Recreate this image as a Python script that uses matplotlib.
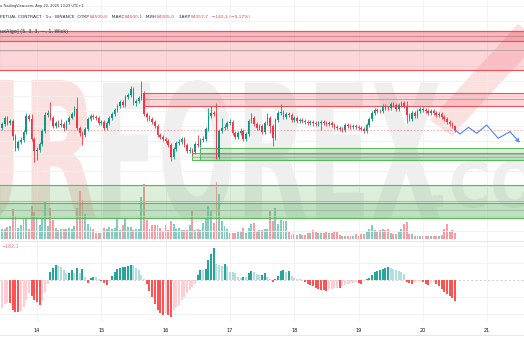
import matplotlib
matplotlib.use('Agg')
import matplotlib.pyplot as plt
import numpy as np
from matplotlib.textpath import TextPath
from matplotlib.patches import PathPatch, Rectangle, Polygon
from matplotlib.font_manager import FontProperties
from matplotlib.transforms import Affine2D
from matplotlib.lines import Line2D
from matplotlib.ticker import MultipleLocator, FixedLocator

W, H = 524, 350

# BTCUSDT perpetual, 1h bars. Bar 13 is Apr 14 00:00 (UTC+3)
first_open = 84424
closes = [84558, 84758, 84591, 84658, 84158, 83758, 83958, 84024, 84291, 84824,
          84724, 84058, 83658, 83691, 83891, 84324, 84858, 84924, 84758, 84491,
          84591, 84524, 84558, 84424, 84624, 84758, 84891, 85058, 84424, 84258,
          84191, 84391, 84724, 84824, 84791, 84758, 84591, 84624, 84424, 84591,
          84758, 84891, 85024, 85158, 85291, 85191, 85458, 85524, 85724, 85258,
          85324, 85424, 85591, 84891, 84791, 84724, 84624, 84491, 84191, 84124,
          84058, 83991, 83858, 83458, 83724, 83924, 83958, 84058, 83858, 83658,
          83691, 83624, 83891, 83858, 84024, 84058, 84391, 84824, 84924, 84891,
          83458, 84324, 84424, 84458, 84591, 84624, 84258, 84124, 84258, 84324,
          84058, 84224, 84658, 84758, 84558, 84424, 84491, 84291, 84591, 84758,
          84491, 84091, 84691, 84924, 84958, 84791, 84891, 84858, 84691, 84758,
          84658, 84691, 84658, 84624, 84591, 84624, 84591, 84558, 84591, 84624,
          84591, 84558, 84591, 84524, 84458, 84424, 84391, 84358, 84524, 84491,
          84458, 84491, 84458, 84424, 84391, 84324, 84524, 84724, 84924, 85024,
          84991, 84985, 85158, 85091, 85085, 85224, 85191, 85058, 85191, 85258,
          85158, 84858, 84724, 84924, 84824, 84991, 85058, 85024, 84991, 84924,
          84991, 84924, 84858, 84891, 84791, 84724, 84624, 84558, 84500.0, 84357.7]
highs = [84624, 84824, 84824, 84724, 84724, 84224, 84024, 84124, 84358, 84924,
         84891, 84891, 84124, 83791, 83958, 84391, 84958, 85024, 85291, 84824,
         84658, 84691, 84724, 84624, 84691, 84824, 84958, 85158, 85458, 84491,
         84324, 84458, 84791, 84891, 84891, 84858, 84824, 84691, 84691, 84658,
         84824, 84958, 85091, 85224, 85358, 85358, 85524, 85591, 85824, 85791,
         85391, 85491, 85991, 85658, 84958, 84858, 84791, 84691, 84558, 84258,
         84191, 84124, 84058, 83924, 83791, 83991, 84058, 84124, 84124, 83924,
         83791, 83758, 83958, 84191, 84091, 84158, 84458, 85091, 85158, 84991,
         85258, 84391, 84758, 84558, 84658, 84724, 84691, 84324, 84324, 84424,
         84391, 84291, 84724, 84924, 84824, 84624, 84558, 84558, 84658, 84924,
         84824, 84558, 84758, 84991, 85224, 85024, 84958, 84958, 84924, 84824,
         84824, 84758, 84758, 84724, 84691, 84691, 84691, 84658, 84658, 84691,
         84691, 84658, 84658, 84658, 84591, 84524, 84491, 84458, 84591, 84591,
         84558, 84558, 84558, 84524, 84491, 84458, 84591, 84791, 84991, 85091,
         85091, 85058, 85224, 85224, 85158, 85291, 85291, 85258, 85258, 85324,
         85324, 85324, 84924, 84991, 84991, 85058, 85124, 85124, 85091, 85058,
         85058, 85058, 84991, 84958, 84958, 84858, 84791, 84691, 84624, 84500.1]
lows = [84358, 84491, 84524, 84524, 84024, 83658, 83691, 83891, 83958, 84224,
        84658, 83991, 83291, 83358, 83624, 83824, 84258, 84791, 84691, 84424,
        84424, 84458, 84458, 84324, 84358, 84558, 84724, 84824, 84358, 84158,
        83858, 84124, 84324, 84658, 84724, 84691, 84524, 84524, 84358, 84358,
        84524, 84691, 84824, 84958, 85091, 85124, 85124, 85391, 85458, 85191,
        85158, 85258, 85358, 84824, 84658, 84658, 84558, 84424, 84124, 84058,
        83991, 83924, 83791, 83324, 83391, 83658, 83858, 83891, 83791, 83591,
        83591, 83524, 83558, 83791, 83791, 83958, 83991, 84324, 84758, 84824,
        83391, 83391, 84258, 84358, 84391, 84524, 84191, 84058, 84058, 84191,
        83991, 83991, 84158, 84591, 84491, 84358, 84358, 84224, 84224, 84524,
        84258, 83824, 84024, 84624, 84858, 84724, 84724, 84791, 84624, 84624,
        84591, 84591, 84591, 84558, 84524, 84524, 84491, 84491, 84491, 84358,
        84524, 84491, 84491, 84458, 84391, 84358, 84324, 84291, 84291, 84424,
        84391, 84391, 84391, 84358, 84324, 84258, 84258, 84458, 84658, 84858,
        84924, 84924, 84924, 85024, 85024, 85024, 85124, 84991, 84991, 85124,
        85091, 84591, 84658, 84658, 84758, 84758, 84924, 84958, 84924, 84858,
        84858, 84858, 84791, 84791, 84724, 84658, 84558, 84491, 84424, 84305.0]
volumes = [1000, 1000, 1200, 1300, 3000, 2300, 1100, 1400, 2000, 2100,
           1000, 3300, 2700, 2200, 1400, 2000, 3800, 1300, 3100, 1900,
           1100, 900, 1000, 1000, 1000, 1100, 1000, 1300, 3100, 4800,
           3900, 2500, 1500, 1200, 1000, 600, 600, 600, 1100, 1000,
           1200, 1000, 1100, 2100, 900, 1400, 2000, 1200, 1200, 900,
           1000, 1000, 4200, 5500, 1900, 1000, 1400, 1400, 1400, 1100,
           800, 1400, 900, 1800, 1500, 1000, 1100, 900, 900, 900,
           1400, 2800, 900, 1000, 900, 1600, 2100, 3300, 2800, 1600,
           5700, 4500, 1800, 1300, 1000, 600, 600, 600, 700, 800,
           1100, 600, 1100, 1500, 1600, 700, 900, 900, 1000, 1000,
           2800, 1800, 3100, 1500, 1900, 1800, 1800, 700, 400, 500,
           400, 500, 400, 400, 600, 600, 900, 700, 600, 600,
           600, 700, 600, 600, 800, 700, 400, 300, 300, 300,
           300, 300, 500, 300, 500, 500, 700, 1000, 1400, 900,
           700, 900, 1000, 900, 1000, 600, 500, 500, 700, 1000,
           1500, 1700, 500, 500, 300, 300, 300, 300, 300, 300,
           300, 300, 300, 300, 400, 1000, 1500, 700, 900, 600]
# oscillator histogram
osc = [-246, -211, -202, -203, -264, -282, -284, -273, -238, -176,
       -114, -141, -176, -194, -220, -185, -106, -35, 70, 106,
       132, 123, 114, 88, 62, 63, 88, 62, 106, 62,
       97, 26, -26, 18, 26, 24, 9, -9, -26, -44,
       -9, 35, 70, 97, 106, 114, 115, 123, 132, 131,
       106, 88, 44, 9, -35, -97, -150, -211, -264, -290,
       -308, -290, -309, -326, -264, -238, -220, -176, -150, -114,
       -88, -62, -35, 44, 88, 87, 97, 176, 229, 282,
       141, 132, 123, 141, 123, 70, 70, 62, 26, 18,
       26, 24, 62, 79, 70, 53, 44, 45, 62, 26,
       9, -18, 9, 35, 79, 84, 70, 79, 35, 18,
       9, 8, 4, -18, -35, -44, -53, -70, -79, -84,
       -88, -97, -79, -78, -70, -69, -75, -53, -44, -35,
       -26, -25, -18, -26, -35, -9, 9, 18, 44, 70,
       79, 88, 97, 106, 114, 106, 97, 88, 79, 70,
       53, -18, -26, -35, -18, -9, -8, -18, -35, -44,
       -18, -17, -35, -53, -79, -106, -123, -141, -158, -182.1]

day_ticks = [13, 37, 61, 85, 109, 133, 157, 181]
day_labels = ['14', '15', '16', '17', '18', '19', '20', '21']

# order blocks: (first bar, bottom, top)
bear_blocks = [(-1, 87324, 87658), (-1, 86358, 87658), (53, 85158, 85601)]
bull_blocks = [(71, 83341, 83591), (74, 83341, 83758),
               (-1, 81425, 82525), (-1, 81425, 81924)]

# projected path drawn after the last bar
path_x = [169, 170.9, 174, 177.1, 180.8, 185.1, 189.5, 193.2]
path_y = [84358, 84224, 84448, 84248, 84524, 84081, 84301, 83934]

UP, DOWN = '#089981', '#f23645'
GRID = '#f0f0f0'
TXT = '#2a2e39'

opens = [first_open] + closes[:-1]
o = np.array(opens)
c = np.array(closes)
idx = np.arange(len(c))
rising = c >= o
cols = np.where(rising, UP, DOWN)

fig = plt.figure(figsize=(W / 100, H / 100), dpi=100)
fig.patch.set_facecolor('white')
renderer = fig.canvas.get_renderer()


def pane(top, bottom):
    a = fig.add_axes([0, 1 - bottom / H, 1, (bottom - top) / H])
    a.set_facecolor('none')
    a.set_xlim(-0.78, 194.74)
    for s in a.spines.values():
        s.set_visible(False)
    a.tick_params(length=0, labelleft=False, labelbottom=False)
    return a


def watermark(text, x0, x1, ytop, ybot, color):
    fp = FontProperties(family='DejaVu Sans', weight='bold')
    tp = TextPath((0, 0), text, size=100, prop=fp)
    ext = tp.get_extents()
    tr = (Affine2D().translate(-ext.x0, -ext.y0)
          .scale((x1 - x0) / ext.width, (ybot - ytop) / ext.height)
          .translate(x0, H - ybot))
    fig.add_artist(PathPatch(tp, transform=tr, fc=color, ec='none', zorder=-2))


watermark('UR', -48, 96, 80, 222, '#fbe0e0')
watermark('FOREX', 103, 440, 80, 222, '#efefef')
watermark('.COM', 433, 590, 160, 208, '#efefef')
# check-mark stroke of the logo, in figure fractions
tick = [(430, 120), (518, 24), (540, 40), (452, 136)]
fig.add_artist(Polygon([(x / W, 1 - y / H) for x, y in tick], closed=True,
                       transform=fig.transFigure, fc='#fbe0e0', ec='none',
                       zorder=-2))

ax_vol = pane(175, 239)
ax = pane(0, 241)
ax_osc = pane(241, 322)

# price pane
ax.set_ylim(80657.7, 88690.9)
ax.yaxis.set_major_locator(MultipleLocator(500))
ax.set_xticks(day_ticks)
ax.grid(True, color=GRID, lw=0.6, zorder=0)

for s, b, t in bear_blocks:
    ax.add_patch(Rectangle((s, b), 400, t - b, fc=(0.95, 0.21, 0.27, 0.2),
                           ec='#f0505a', lw=0.8, zorder=2))
    ax.plot([s, 400], [(b + t) / 2] * 2, color='#b09a9c', lw=0.6, zorder=2)
for s, b, t in bull_blocks:
    ax.add_patch(Rectangle((s, b), 400, t - b, fc=(0.30, 0.69, 0.31, 0.2),
                           ec='#5cb860', lw=0.8, zorder=2))
    ax.plot([s, 400], [(b + t) / 2] * 2, color='#9fb5a0', lw=0.6, zorder=2)

ax.axhline(closes[-1], color=DOWN, alpha=0.45, lw=0.6, ls=(0, (2, 2)), zorder=2)

ax.vlines(idx, lows, highs, colors=cols, lw=0.6, zorder=3)
ax.bar(idx, np.maximum(np.abs(c - o), 12), bottom=np.minimum(o, c), width=0.62,
       color=cols, lw=0, zorder=4)

BLUE = '#4f82ee'
ax.plot(path_x[:-1], path_y[:-1], color=BLUE, lw=0.8, zorder=5)
ax.annotate('', xy=(path_x[-1], path_y[-1]), xytext=(path_x[-2], path_y[-2]),
            arrowprops=dict(arrowstyle='->', color=BLUE, lw=0.8,
                            shrinkA=0, shrinkB=0, mutation_scale=6), zorder=5)

# volume overlay
vol_cols = np.where(rising, '#84ccc0', '#f89ba2')
ax_vol.bar(idx, volumes, width=0.72, color=vol_cols, lw=0)
ax_vol.set_ylim(0, 6400)

# oscillator pane
h = np.array(osc)
prev = np.r_[h[0], h[:-1]]
osc_cols = np.where(h >= 0, np.where(h > prev, '#26a69a', '#b2dfdb'),
                    np.where(h < prev, '#ff5252', '#ffcdd2'))
ax_osc.set_ylim(-370.6, 344.1)
ax_osc.yaxis.set_major_locator(FixedLocator([-300, -150, 150, 300]))
ax_osc.set_xticks(day_ticks, day_labels)
ax_osc.grid(True, color=GRID, lw=0.6, zorder=0)
ax_osc.axhline(0, color='#b8bcc6', lw=0.5, ls=(0, (3, 3)), zorder=1)
ax_osc.bar(idx, h, width=0.75, color=osc_cols, lw=0, zorder=2)
ax_osc.tick_params(labelbottom=True, labelsize=3.6, labelcolor='#131722', pad=4)
ax_osc.spines['top'].set_visible(True)
ax_osc.spines['top'].set_color('#e0e3eb')
ax_osc.spines['top'].set_linewidth(0.6)
fig.add_artist(Line2D([0, 1], [1 - 335 / H] * 2, transform=fig.transFigure,
                      color='#e0e3eb', lw=0.6))


def fmt(v, nd=1):
    return f'{v:.{nd}f}'.replace('.', ',').replace('-', '\u2212')


fig.text(1 / W, 1 - 246 / H, fmt(osc[-1]), ha='left', va='center',
         fontsize=3.4, color='#f47a82')


def row(y, parts, x_end, size=3.2, gap=0.6):
    # measure at a base size, scale so the row ends near x_end,
    # then lay the pieces out one after another at the final size
    total = 0
    for text, _ in parts:
        t = fig.text(0, 0, text, fontsize=size)
        total += t.get_window_extent(renderer).width
        t.remove()
    size *= (x_end - 0.5 - gap * (len(parts) - 1)) / total
    x = 0.5
    for text, color in parts:
        t = fig.text(x / W, 1 - y / H, text, ha='left', va='center',
                     fontsize=size, color=color)
        x += t.get_window_extent(renderer).width + gap


change = closes[-1] - closes[-2]
pct = change / closes[-2] * 100
row(6, [('а TradingView.com, Апр 20, 2025 13:29 UTC+3', TXT)], 83)
row(17, [('PETUAL CONTRACT · 1ч · BINANCE  ОТКР', TXT), (fmt(opens[-1]), DOWN),
         ('  МАКС', TXT), (fmt(highs[-1]), DOWN),
         ('  МИН', TXT), (fmt(lows[-1]), DOWN),
         ('  ЗАКР', TXT), (fmt(closes[-1]), DOWN),
         (f'  {fmt(change)} ({fmt(pct, 2)}%)', DOWN)], 250)
row(32, [('uxAlgo] (5, 3, 3, \u2014, 1, Wick)', TXT)], 68)

fig.savefig('out.png', dpi=100, facecolor='white')
